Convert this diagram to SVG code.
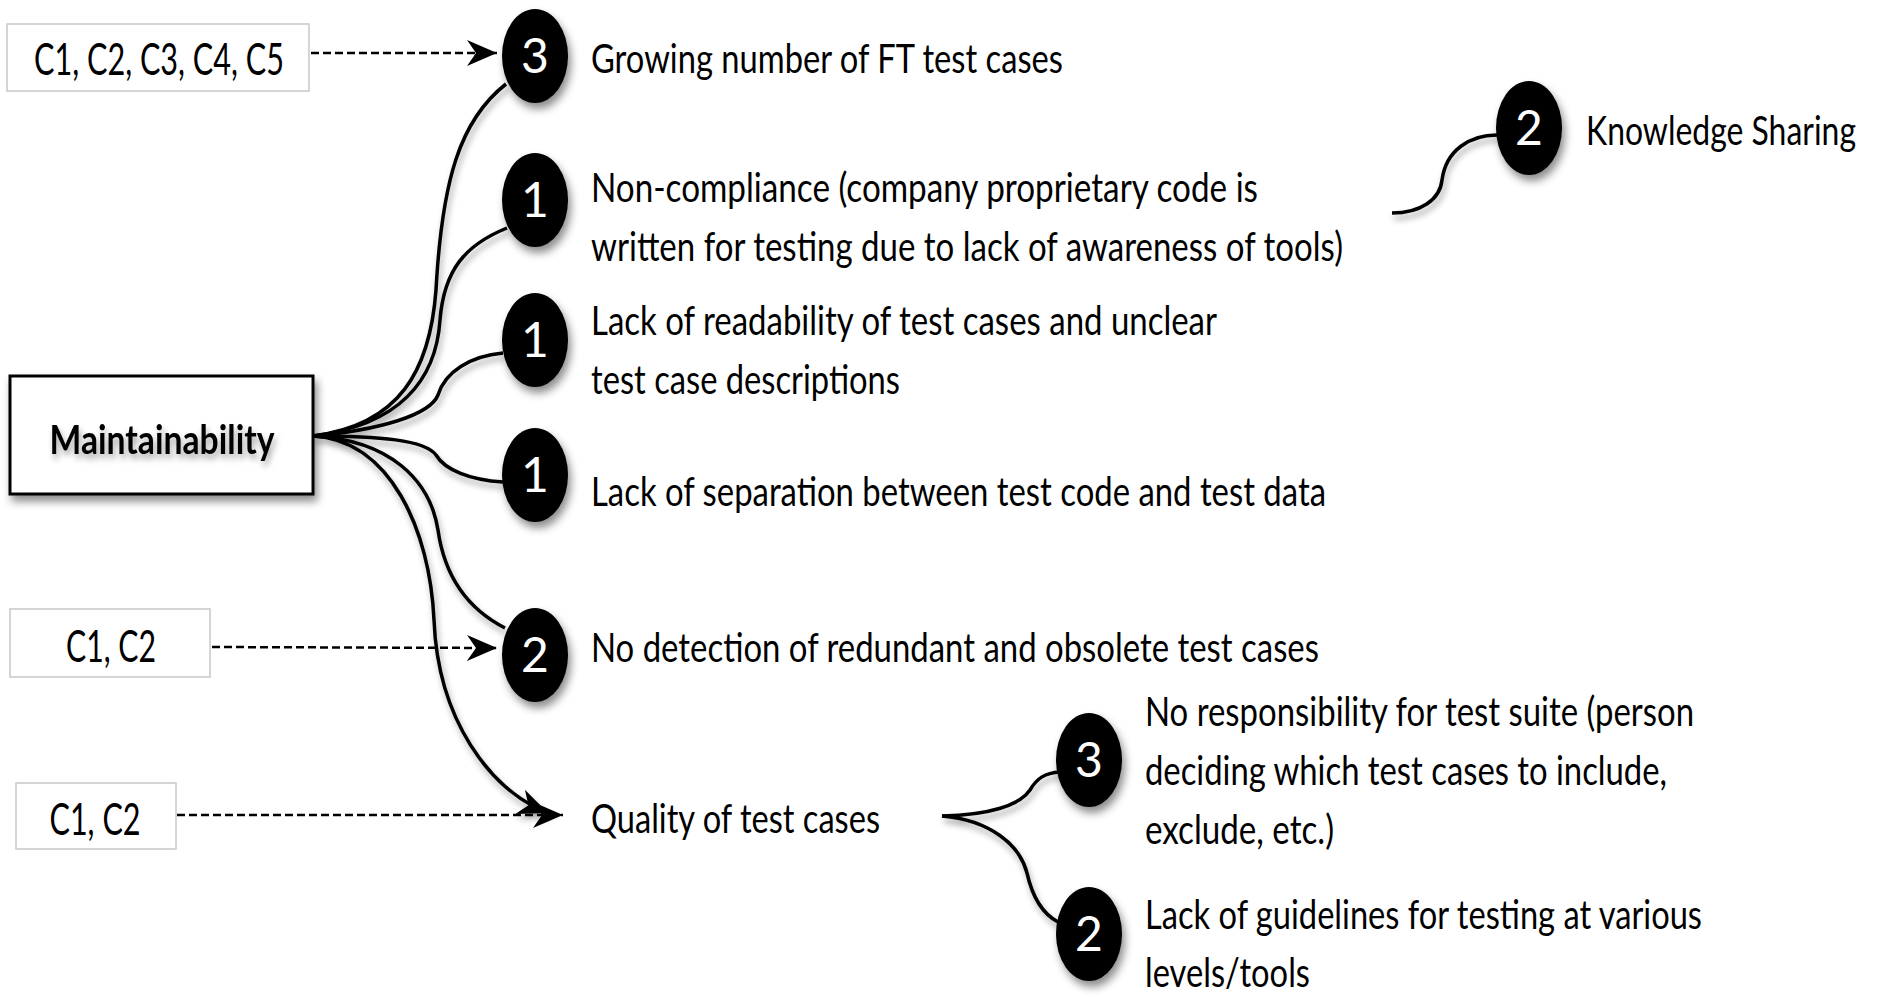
<svg xmlns="http://www.w3.org/2000/svg" width="1885" height="997" viewBox="0 0 1885 997">
<defs>
<filter id="sh" x="-30%" y="-30%" width="160%" height="160%">
<feDropShadow dx="3" dy="6" stdDeviation="4" flood-color="#000" flood-opacity="0.45"/>
</filter>
<filter id="lsh" x="-10%" y="-10%" width="120%" height="130%">
<feDropShadow dx="2" dy="5" stdDeviation="3" flood-color="#000" flood-opacity="0.35"/>
</filter>
<marker id="arr" markerUnits="userSpaceOnUse" markerWidth="32" markerHeight="28" viewBox="0 0 32 28" refX="30" refY="14" orient="auto">
<path d="M0,1 L30,14 L0,27 L9,14 Z" fill="#000"/>
</marker>
</defs>
<style>
.t{font-family:Lato,"Open Sans","Liberation Sans",sans-serif;font-size:40px;fill:#000}
.cl{font-family:Lato,"Open Sans","Liberation Sans",sans-serif;font-size:44px;fill:#000;text-anchor:middle}
.b{font-family:Lato,"Open Sans","Liberation Sans",sans-serif;font-size:40px;font-weight:bold;fill:#000}
.n{font-family:Lato,"Open Sans","Liberation Sans",sans-serif;font-size:48px;fill:#fff;text-anchor:middle}
.c{fill:#000}
.cbox{fill:#fff;stroke:#c8c8c8;stroke-width:1.5}
.mbox{fill:#fff;stroke:#000;stroke-width:3}
.l{fill:none;stroke:#000;stroke-width:3.5}
.d{fill:none;stroke:#000;stroke-width:2.5;stroke-dasharray:8 4}
</style>
<rect width="1885" height="997" fill="#fff"/>

<g id="connectors">
<g filter="url(#lsh)">
<path class="l" d="M313,436 C400,425 430,370 436,290 C442,180 460,120 506,84"/>
<path class="l" d="M313,436 C400,425 436,380 440,320 C444,270 465,245 507,228"/>
<path class="l" d="M313,436 C380,430 430,415 438,395 C445,372 470,356 503,353"/>
<path class="l" d="M313,436 C380,436 425,440 436,455 C445,470 470,480 503,482"/>
<path class="l" d="M313,436 C390,440 430,480 438,530 C445,580 470,610 505,628"/>
<path class="l" d="M313,436 C390,440 430,530 434,620 C438,720 490,790 548,813" marker-end="url(#arr)"/>
<path class="l" d="M1392,213 C1420,213 1440,200 1442,180 C1446,150 1470,135 1497,135"/>
<path class="l" d="M942,816 C990,815 1020,805 1030,790 C1037,778 1045,773 1060,772"/>
<path class="l" d="M942,816 C990,820 1020,845 1027,873 C1033,900 1045,915 1058,922"/>
</g>
<path class="d" d="M311,53 L497,53" marker-end="url(#arr)"/>
<path class="d" d="M212,647 L497,648" marker-end="url(#arr)"/>
<path class="d" d="M177,815 L563,815" marker-end="url(#arr)"/>
</g>

<g id="src-c1-c5">
<rect class="cbox" x="7" y="24" width="302" height="67"/>
<text class="cl" x="159" y="75" textLength="250" lengthAdjust="spacingAndGlyphs">C1, C2, C3, C4, C5</text>
</g>
<g id="src-c1-c2-a">
<rect class="cbox" x="10" y="609" width="200" height="68"/>
<text class="cl" x="111" y="662" textLength="90" lengthAdjust="spacingAndGlyphs">C1, C2</text>
</g>
<g id="src-c1-c2-b">
<rect class="cbox" x="16" y="783" width="160" height="66"/>
<text class="cl" x="95" y="835" textLength="91" lengthAdjust="spacingAndGlyphs">C1, C2</text>
</g>

<g id="maintainability">
<rect class="mbox" x="10" y="376" width="303" height="118" filter="url(#sh)"/>
<text class="b" x="162" y="454" text-anchor="middle" textLength="225" lengthAdjust="spacingAndGlyphs" filter="url(#lsh)">Maintainability</text>
</g>

<g id="growing">
<ellipse class="c" cx="535" cy="56" rx="33" ry="47" filter="url(#sh)"/>
<text class="n" x="535" y="73">3</text>
<text class="t" x="591" y="73" textLength="472" lengthAdjust="spacingAndGlyphs">Growing number of FT test cases</text>
</g>

<g id="noncompliance">
<ellipse class="c" cx="535" cy="200" rx="33" ry="47" filter="url(#sh)"/>
<text class="n" x="535" y="217">1</text>
<text class="t" x="591" y="202" textLength="667" lengthAdjust="spacingAndGlyphs">Non-compliance (company proprietary code is</text>
<text class="t" x="591" y="261" textLength="752" lengthAdjust="spacingAndGlyphs">written for testing due to lack of awareness of tools)</text>
</g>

<g id="readability">
<ellipse class="c" cx="535" cy="340" rx="33" ry="47" filter="url(#sh)"/>
<text class="n" x="535" y="357">1</text>
<text class="t" x="591" y="335" textLength="626" lengthAdjust="spacingAndGlyphs">Lack of readability of test cases and unclear</text>
<text class="t" x="591" y="394" textLength="309" lengthAdjust="spacingAndGlyphs">test case descriptions</text>
</g>

<g id="separation">
<ellipse class="c" cx="535" cy="475" rx="33" ry="47" filter="url(#sh)"/>
<text class="n" x="535" y="492">1</text>
<text class="t" x="591" y="506" textLength="735" lengthAdjust="spacingAndGlyphs">Lack of separation between test code and test data</text>
</g>

<g id="redundant">
<ellipse class="c" cx="535" cy="655" rx="33" ry="47" filter="url(#sh)"/>
<text class="n" x="535" y="672">2</text>
<text class="t" x="591" y="662" textLength="728" lengthAdjust="spacingAndGlyphs">No detection of redundant and obsolete test cases</text>
</g>

<g id="quality">
<text class="t" x="591" y="833" textLength="289" lengthAdjust="spacingAndGlyphs">Quality of test cases</text>
</g>

<g id="knowledge">
<ellipse class="c" cx="1529" cy="128" rx="33" ry="47" filter="url(#sh)"/>
<text class="n" x="1529" y="145">2</text>
<text class="t" x="1586" y="145" textLength="270" lengthAdjust="spacingAndGlyphs">Knowledge Sharing</text>
</g>

<g id="responsibility">
<ellipse class="c" cx="1089" cy="760" rx="33" ry="47" filter="url(#sh)"/>
<text class="n" x="1089" y="777">3</text>
<text class="t" x="1145" y="726" textLength="549" lengthAdjust="spacingAndGlyphs">No responsibility for test suite (person</text>
<text class="t" x="1145" y="785" textLength="522" lengthAdjust="spacingAndGlyphs">deciding which test cases to include,</text>
<text class="t" x="1145" y="844" textLength="189" lengthAdjust="spacingAndGlyphs">exclude, etc.)</text>
</g>

<g id="guidelines">
<ellipse class="c" cx="1089" cy="934" rx="33" ry="47" filter="url(#sh)"/>
<text class="n" x="1089" y="951">2</text>
<text class="t" x="1145" y="929" textLength="557" lengthAdjust="spacingAndGlyphs">Lack of guidelines for testing at various</text>
<text class="t" x="1145" y="987" textLength="165" lengthAdjust="spacingAndGlyphs">levels/tools</text>
</g>
</svg>
